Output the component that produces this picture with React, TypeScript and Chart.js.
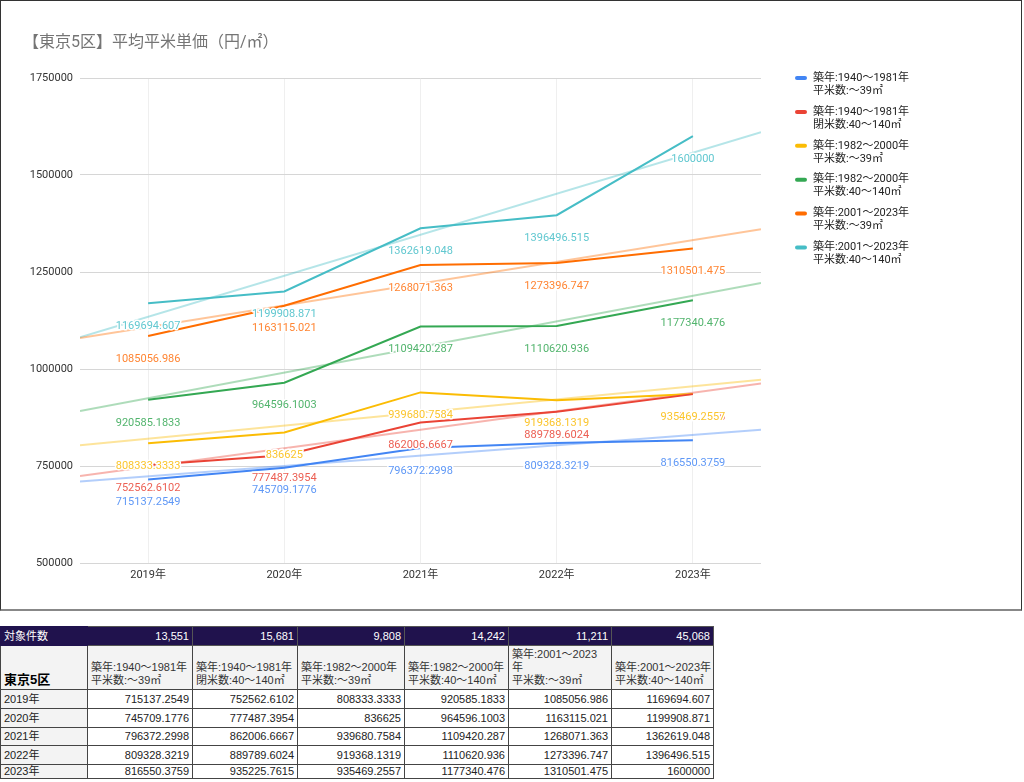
import { useEffect, useRef } from 'react'
import { Chart, registerables } from 'chart.js'

Chart.register(...registerables)

// data (values per year, 2019..2023)
const years = [2019, 2020, 2021, 2022, 2023]
const yTicks = [500000, 750000, 1000000, 1250000, 1500000, 1750000]

const seriesNames = [
  ['築年:1940〜1981年', '平米数:〜39㎡'],
  ['築年:1940〜1981年', '閉米数:40〜140㎡'],
  ['築年:1982〜2000年', '平米数:〜39㎡'],
  ['築年:1982〜2000年', '平米数:40〜140㎡'],
  ['築年:2001〜2023年', '平米数:〜39㎡'],
  ['築年:2001〜2023年', '平米数:40〜140㎡'],
]

const old39 = [715137.2549, 745709.1776, 796372.2998, 809328.3219, 816550.3759]
const old140 = [752562.6102, 777487.3954, 862006.6667, 889789.6024, 935225.7615]
const mid39 = [808333.3333, 836625, 939680.7584, 919368.1319, 935469.2557]
const mid140 = [920585.1833, 964596.1003, 1109420.287, 1110620.936, 1177340.476]
const new39 = [1085056.986, 1163115.021, 1268071.363, 1273396.747, 1310501.475]
const new140 = [1169694.607, 1199908.871, 1362619.048, 1396496.515, 1600000]
const seriesValues = [old39, old140, mid39, mid140, new39, new140]

const counts = ['13,551', '15,681', '9,808', '14,242', '11,211', '45,068']

const colors = ['#4285F4', '#EA4335', '#FBBC04', '#34A853', '#FF6D01', '#46BDC6']
const trendColors = [
  'rgba(66,133,244,0.4)',
  'rgba(234,67,53,0.4)',
  'rgba(251,188,4,0.4)',
  'rgba(52,168,83,0.4)',
  'rgba(255,109,1,0.4)',
  'rgba(70,189,198,0.4)',
]
const labelColors = ['#5f98f6', '#ec5f53', '#fbc52d', '#52b46d', '#ff8533', '#62c8d0']

const X_MIN = 2018.5
const X_MAX = 2023.5
const FONT = 'Roboto, "Noto Sans CJK JP", sans-serif'

// least squares trendline, evaluated at the edges of the x range
function trendline(values: number[]) {
  const n = values.length
  const mx = years.reduce((a, b) => a + b, 0) / n
  const my = values.reduce((a, b) => a + b, 0) / n
  let sxy = 0
  let sxx = 0
  years.forEach((x, i) => {
    sxy += (x - mx) * (values[i] - my)
    sxx += (x - mx) * (x - mx)
  })
  const slope = sxy / sxx
  return [X_MIN, X_MAX].map(x => ({ x, y: my + slope * (x - mx) }))
}

const pointLabels = {
  id: 'pointLabels',
  afterDatasetsDraw(chart: Chart) {
    const ctx = chart.ctx
    ctx.save()
    ctx.font = `11px ${FONT}`
    ctx.textAlign = 'center'
    ctx.textBaseline = 'middle'
    ctx.lineJoin = 'round'
    seriesValues.forEach((vals, i) => {
      const meta = chart.getDatasetMeta(i)
      meta.data.forEach((pt: any, j: number) => {
        const t = String(vals[j])
        ctx.lineWidth = 3
        ctx.strokeStyle = '#ffffff'
        ctx.strokeText(t, pt.x, pt.y + 23)
        ctx.fillStyle = labelColors[i]
        ctx.fillText(t, pt.x, pt.y + 23)
      })
    })
    ctx.restore()
  },
}

const sideLegend = {
  id: 'sideLegend',
  afterDraw(chart: Chart) {
    const ctx = chart.ctx
    ctx.save()
    // title
    ctx.font = `16px ${FONT}`
    ctx.fillStyle = '#757575'
    ctx.textAlign = 'left'
    ctx.textBaseline = 'middle'
    ctx.fillText('【東京5区】平均平米単価（円/㎡）', 22, 42)
    // legend
    ctx.font = `11px ${FONT}`
    seriesNames.forEach((lines, i) => {
      const y = 77 + i * 33.9
      ctx.strokeStyle = colors[i]
      ctx.lineWidth = 4
      ctx.lineCap = 'round'
      ctx.beginPath()
      ctx.moveTo(796, y)
      ctx.lineTo(804, y)
      ctx.stroke()
      ctx.fillStyle = '#222222'
      lines.forEach((l, k) => ctx.fillText(l, 812, y + k * 13))
    })
    ctx.restore()
  },
}

function PriceChart() {
  const canvasRef = useRef<HTMLCanvasElement>(null)
  const chartRef = useRef<Chart | null>(null)

  useEffect(() => {
    if (!canvasRef.current) return
    const mainSets = seriesValues.map((vals, i) => ({
      label: seriesNames[i].join(' '),
      data: years.map((x, j) => ({ x, y: vals[j] })),
      borderColor: colors[i],
      backgroundColor: colors[i],
      borderWidth: 2,
      pointRadius: 0,
      tension: 0,
      fill: false,
    }))
    const trendSets = seriesValues.map((vals, i) => ({
      label: 'trend ' + i,
      data: trendline(vals),
      borderColor: trendColors[i],
      borderWidth: 2,
      pointRadius: 0,
      tension: 0,
      fill: false,
    }))

    chartRef.current = new Chart(canvasRef.current, {
      type: 'line',
      data: { datasets: [...mainSets, ...trendSets] },
      options: {
        animation: false,
        responsive: false,
        layout: { padding: { top: 77, right: 260, bottom: 0, left: 0 } },
        plugins: {
          legend: { display: false },
          tooltip: { enabled: false },
        },
        scales: {
          x: {
            type: 'linear',
            min: X_MIN,
            max: X_MAX,
            afterBuildTicks: (s: any) => {
              s.ticks = years.map(v => ({ value: v }))
            },
            afterFit: (s: any) => {
              s.height = 46
            },
            grid: { color: '#efefef', drawTicks: false },
            border: { display: false },
            ticks: {
              padding: 6,
              maxRotation: 0,
              autoSkip: false,
              color: '#333333',
              font: { family: FONT, size: 11 },
              callback: (v: any) => `${v}年`,
            },
          },
          y: {
            min: 500000,
            max: 1750000,
            afterBuildTicks: (s: any) => {
              s.ticks = yTicks.map(v => ({ value: v }))
            },
            afterFit: (s: any) => {
              s.width = 79
            },
            grid: { color: '#d6d6d6', drawTicks: false },
            border: { display: false },
            ticks: {
              padding: 7,
              color: '#333333',
              font: { family: FONT, size: 11 },
              callback: (v: any) => String(v),
            },
          },
        },
      },
      plugins: [pointLabels, sideLegend],
    })

    return () => {
      if (chartRef.current) {
        chartRef.current.destroy()
        chartRef.current = null
      }
    }
  }, [])

  return (
    <div
      style={{
        position: 'absolute',
        left: 0,
        top: 0,
        width: 1020,
        height: 608,
        border: '1px solid #333',
        borderBottom: '2px solid #888',
        background: '#fff',
      }}
    >
      <canvas ref={canvasRef} width={1020} height={608} style={{ display: 'block' }} />
    </div>
  )
}

const TFONT = '"Liberation Sans", Arial, "Noto Sans CJK JP", sans-serif'
const colWidths = [87, 105, 105, 107, 104, 103, 102]
const rowHeights = [19, 19, 18, 19, 13]

function DataTable() {
  const cell: React.CSSProperties = {
    border: '1px solid #444',
    padding: '0 3px',
    fontFamily: TFONT,
    fontSize: 11,
    lineHeight: '13px',
    whiteSpace: 'nowrap',
    overflow: 'hidden',
  }
  const headCell: React.CSSProperties = {
    ...cell,
    background: '#f3f3f3',
    color: '#333',
    verticalAlign: 'bottom',
    textAlign: 'left',
    paddingBottom: 2,
  }
  const headerLines = seriesNames.map((l, i) => (i === 4 ? ['築年:2001〜2023', '年', l[1]] : l))

  return (
    <table
      style={{
        position: 'absolute',
        left: 0,
        top: 626,
        borderCollapse: 'collapse',
        tableLayout: 'fixed',
        width: colWidths.reduce((a, b) => a + b, 0),
      }}
    >
      <colgroup>
        {colWidths.map((w, i) => (
          <col key={i} style={{ width: w }} />
        ))}
      </colgroup>
      <tbody>
        <tr style={{ height: 19 }}>
          <td style={{ ...cell, background: '#20124d', color: '#fff', borderColor: '#20124d' }}>対象件数</td>
          {counts.map((c, i) => (
            <td
              key={i}
              style={{ ...cell, background: '#20124d', color: '#fff', textAlign: 'right', borderColor: '#555' }}
            >
              {c}
            </td>
          ))}
        </tr>
        <tr style={{ height: 44 }}>
          <td style={{ ...headCell, color: '#000', fontWeight: 'bold', fontSize: 13, lineHeight: '15px' }}>
            東京5区
          </td>
          {headerLines.map((lines, i) => (
            <td key={i} style={headCell}>
              {lines.map((l, k) => (
                <div key={k}>{l}</div>
              ))}
            </td>
          ))}
        </tr>
        {years.map((y, j) => (
          <tr key={y} style={{ height: rowHeights[j] }}>
            <td style={{ ...cell, background: '#f3f3f3', color: '#222' }}>{y}年</td>
            {seriesValues.map((vals, i) => (
              <td key={i} style={{ ...cell, textAlign: 'right', color: '#222', background: '#fff' }}>
                {String(vals[j])}
              </td>
            ))}
          </tr>
        ))}
      </tbody>
    </table>
  )
}

export default function App() {
  return (
    <div style={{ position: 'absolute', left: 0, top: 0, width: 1024, height: 782, background: '#fff' }}>
      <PriceChart />
      <DataTable />
    </div>
  )
}
